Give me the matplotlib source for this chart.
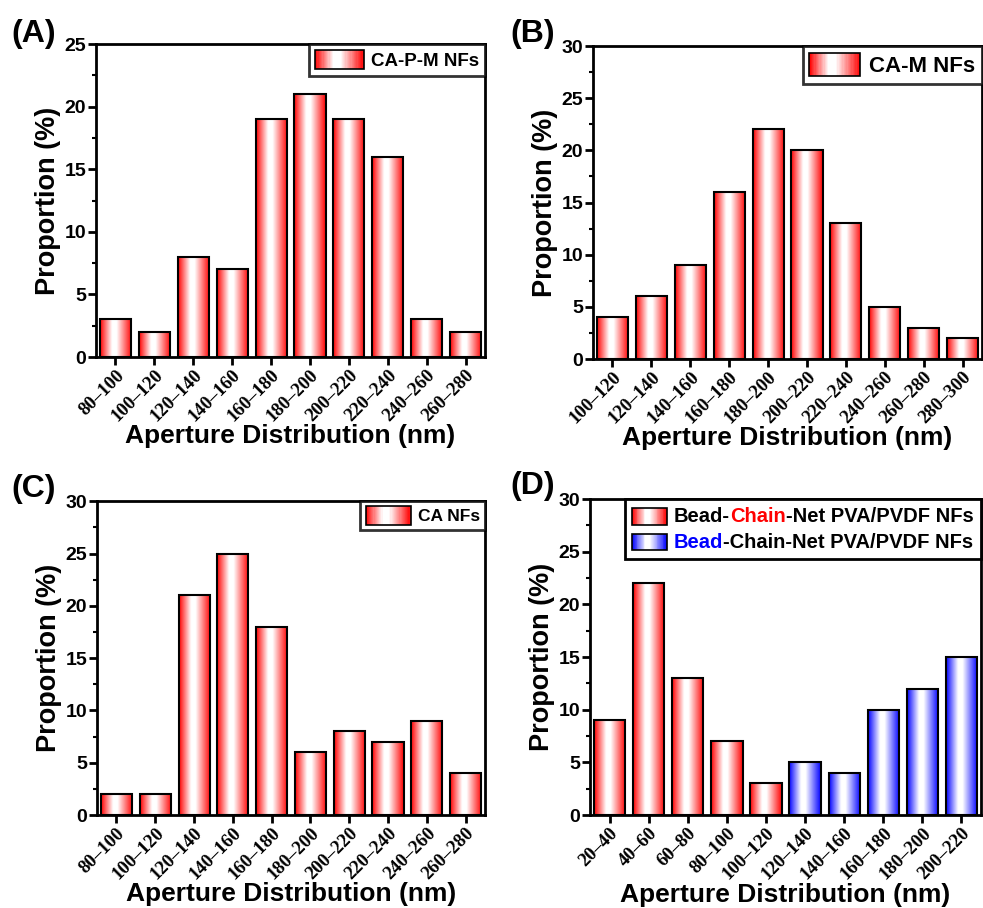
import matplotlib

matplotlib.use("Agg")
import matplotlib.pyplot as plt
import numpy as np
from matplotlib.colors import LinearSegmentedColormap
from matplotlib.legend_handler import HandlerBase
from matplotlib.offsetbox import (AnchoredOffsetbox, DrawingArea, HPacker,
                                  TextArea, VPacker)
from matplotlib.patches import Patch, Rectangle

# ---- data -------------------------------------------------------------
a_labels = ["80–100", "100–120", "120–140", "140–160", "160–180",
            "180–200", "200–220", "220–240", "240–260", "260–280"]
a_values = [3, 2, 8, 7, 19, 21, 19, 16, 3, 2]

b_labels = ["100–120", "120–140", "140–160", "160–180", "180–200",
            "200–220", "220–240", "240–260", "260–280", "280–300"]
b_values = [4, 6, 9, 16, 22, 20, 13, 5, 3, 2]

c_labels = ["80–100", "100–120", "120–140", "140–160", "160–180",
            "180–200", "200–220", "220–240", "240–260", "260–280"]
c_values = [2, 2, 21, 25, 18, 6, 8, 7, 9, 4]

d_labels = ["20–40", "40–60", "60–80", "80–100", "100–120",
            "120–140", "140–160", "160–180", "180–200", "200–220"]
d_values = [9, 22, 13, 7, 3, 5, 4, 10, 12, 15]
d_groups = ["red"] * 5 + ["blue"] * 5

SANS = "Liberation Sans"
SERIF = "Liberation Serif"

CMAPS = {
    "red": LinearSegmentedColormap.from_list(
        "redgrad", [(0, "#ff0000"), (0.38, "#ffffff"), (0.52, "#ffffff"), (1, "#ff0000")]),
    "blue": LinearSegmentedColormap.from_list(
        "bluegrad", [(0, "#0000ff"), (0.38, "#ffffff"), (0.52, "#ffffff"), (1, "#0000ff")]),
}
GRAD = np.linspace(0, 1, 256).reshape(1, -1)


def gradient_strips(width, height, cmap, x0=0.0, y0=0.0, trans=None):
    arts = []
    n = 40
    kw = {} if trans is None else {"transform": trans}
    for k in range(n):
        arts.append(Rectangle((x0 + width * k / n, y0), width / n * 1.05, height,
                              facecolor=cmap((k + 0.5) / n), edgecolor="none", **kw))
    arts.append(Rectangle((x0, y0), width, height, facecolor="none",
                          edgecolor="black", linewidth=1.2, **kw))
    return arts


class GradientHandler(HandlerBase):
    def __init__(self, cmap):
        super().__init__()
        self.cmap = cmap

    def create_artists(self, legend, orig_handle, xdescent, ydescent,
                       width, height, fontsize, trans):
        return gradient_strips(width, height, self.cmap, -xdescent, -ydescent, trans)


def draw_panel(ax, labels, values, groups, ymax):
    x = np.arange(len(values))
    w = 0.8
    for xi, v, g in zip(x, values, groups):
        ax.imshow(GRAD, cmap=CMAPS[g], extent=(xi - w / 2, xi + w / 2, 0, v),
                  aspect="auto", zorder=2, interpolation="bilinear")
    ax.bar(x, values, width=w, facecolor="none", edgecolor="black",
           linewidth=1.5, zorder=3)
    ax.set_xlim(-0.5, len(values) - 0.5)
    ax.set_ylim(0, ymax)
    ax.set_aspect("auto")

    ax.set_xticks(x)
    ax.set_xticklabels(labels, rotation=45, ha="right", rotation_mode="anchor",
                       fontfamily=SERIF, fontweight="bold", fontsize=13.5)
    ax.set_yticks(np.arange(0, ymax + 1, 5))
    ax.set_yticks(np.arange(2.5, ymax, 5), minor=True)
    for t in ax.get_yticklabels():
        t.set_fontfamily(SANS)
        t.set_fontweight("bold")
        t.set_fontsize(14)
    ax.tick_params(axis="both", which="major", direction="out", length=6,
                   width=2, pad=1)
    ax.tick_params(axis="y", which="minor", direction="out", length=3, width=1.5)
    for s in ax.spines.values():
        s.set_linewidth(2)

    ax.set_xlabel("Aperture Distribution (nm)", fontfamily=SANS,
                  fontweight="bold", fontsize=19)
    ax.xaxis.set_label_coords(0.5, -0.215)
    ax.set_ylabel("Proportion (%)", fontfamily=SANS, fontweight="bold",
                  fontsize=19.5)
    ax.yaxis.set_label_coords(-0.09, 0.5)


def simple_legend(ax, name, size, hl=2.6):
    h = Patch()
    leg = ax.legend([h], [name], handler_map={h: GradientHandler(CMAPS["red"])},
                    loc="upper right", frameon=True, fancybox=False,
                    borderaxespad=0.0, handlelength=hl, handleheight=1.25,
                    handletextpad=0.4, borderpad=0.3,
                    prop={"family": SANS, "weight": "bold", "size": size})
    leg.get_frame().set_edgecolor("black")
    leg.get_frame().set_linewidth(2)
    leg.set_zorder(5)


fig = plt.figure(figsize=(9.83, 9.08), dpi=100)

ax_a = fig.add_axes([0.0977, 0.6068, 0.3957, 0.3447])
ax_b = fig.add_axes([0.6033, 0.6046, 0.3957, 0.3447])
ax_c = fig.add_axes([0.0987, 0.1024, 0.3947, 0.3456])
ax_d = fig.add_axes([0.6002, 0.1024, 0.3978, 0.3480])

draw_panel(ax_a, a_labels, a_values, ["red"] * 10, 25)
draw_panel(ax_b, b_labels, b_values, ["red"] * 10, 30)
draw_panel(ax_c, c_labels, c_values, ["red"] * 10, 30)
draw_panel(ax_d, d_labels, d_values, d_groups, 30)

simple_legend(ax_a, "CA-P-M NFs", 13.5)
simple_legend(ax_b, "CA-M NFs", 16, hl=2.3)
simple_legend(ax_c, "CA NFs", 12.5)

# panel D legend with multicoloured labels
d_rows = [
    ("red", [("Bead-", "black"), ("Chain", "red"), ("-Net PVA/PVDF NFs", "black")]),
    ("blue", [("Bead", "blue"), ("-Chain-Net PVA/PVDF NFs", "black")]),
]
rows = []
for g, parts in d_rows:
    da = DrawingArea(25, 12, 0, 0)
    for art in gradient_strips(25, 12, CMAPS[g]):
        da.add_artist(art)
    texts = [TextArea(s, textprops=dict(color=c, fontfamily=SANS,
                                        fontweight="bold", fontsize=14.5))
             for s, c in parts]
    txt_box = HPacker(children=texts, align="baseline", pad=0, sep=0)
    rows.append(HPacker(children=[da, txt_box], align="center", pad=0, sep=5))
box = VPacker(children=rows, align="left", pad=0, sep=5)
anchored = AnchoredOffsetbox(loc="upper right", child=box, pad=0.55,
                             borderpad=0.0, frameon=True)
anchored.patch.set_edgecolor("black")
anchored.patch.set_linewidth(2)
anchored.patch.set_boxstyle("square", pad=0)
anchored.set_zorder(5)
ax_d.add_artist(anchored)

for lbl, xx, yy in [("(A)", 0.012, 0.963), ("(B)", 0.519, 0.963),
                    ("(C)", 0.012, 0.461), ("(D)", 0.519, 0.465)]:
    fig.text(xx, yy, lbl, fontfamily=SANS, fontweight="bold", fontsize=23,
             ha="left", va="center")

fig.savefig("out.png", dpi=100)
